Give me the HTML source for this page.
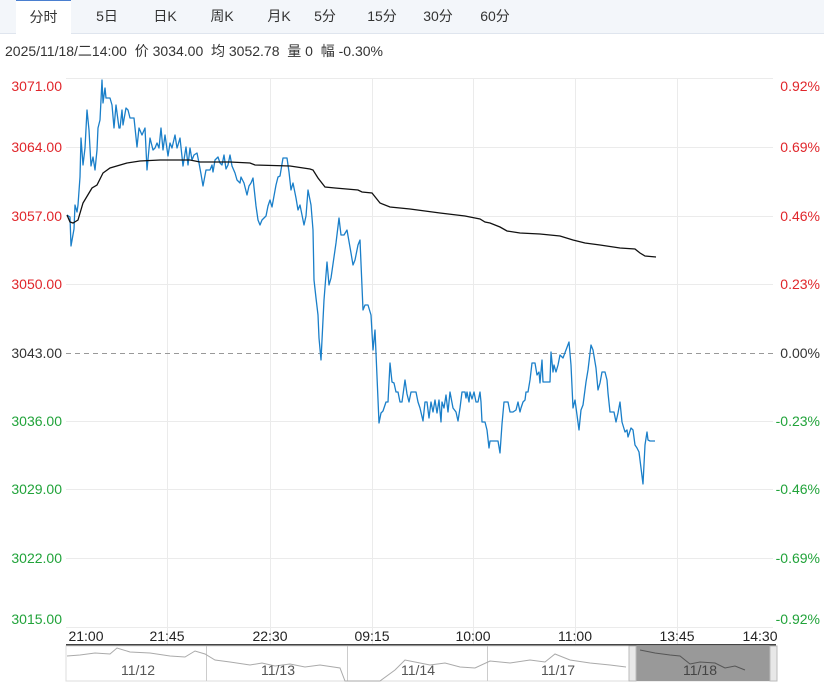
<!DOCTYPE html>
<html><head><meta charset="utf-8"><style>
html,body{margin:0;padding:0;background:#fff;}
body{width:824px;height:684px;overflow:hidden;position:relative;font-family:"Liberation Sans","Noto Sans CJK SC",sans-serif;}
.tabs{position:absolute;left:0;top:0;width:824px;height:33px;background:#f3f6fa;border-bottom:1px solid #dfe5ee;}
.tab{position:absolute;top:0;height:33px;line-height:33px;font-size:14px;color:#333;text-align:center;}
.tab.act{background:#fff;border-top:1px solid #4a7fd0;height:33px;}
.info{position:absolute;left:5px;top:41px;font-size:14px;color:#333;white-space:nowrap;}
</style></head><body>
<div class="tabs">
<div class="tab act" style="left:16px;width:55px">分时</div>
<div class="tab" style="left:88px;width:38px">5日</div>
<div class="tab" style="left:145px;width:40px">日K</div>
<div class="tab" style="left:200px;width:44px">周K</div>
<div class="tab" style="left:258px;width:42px">月K</div>
<div class="tab" style="left:305px;width:40px">5分</div>
<div class="tab" style="left:360px;width:44px">15分</div>
<div class="tab" style="left:416px;width:44px">30分</div>
<div class="tab" style="left:473px;width:44px">60分</div>
</div>
<div class="info">2025/11/18/二14:00&nbsp; 价 3034.00&nbsp; 均 3052.78&nbsp; 量 0&nbsp; 幅 -0.30%</div>
<svg width="824" height="684" style="position:absolute;left:0;top:0" font-family="Liberation Sans, sans-serif">
<g stroke="#ebebeb" stroke-width="1">
<line x1="66" y1="78.5" x2="773" y2="78.5"/><line x1="66" y1="147.5" x2="773" y2="147.5"/>
<line x1="66" y1="216.5" x2="773" y2="216.5"/><line x1="66" y1="284.5" x2="773" y2="284.5"/>
<line x1="66" y1="421.5" x2="773" y2="421.5"/><line x1="66" y1="489.5" x2="773" y2="489.5"/>
<line x1="66" y1="558.5" x2="773" y2="558.5"/><line x1="66" y1="627.5" x2="773" y2="627.5"/>
<line x1="167.5" y1="78" x2="167.5" y2="644"/><line x1="270.5" y1="78" x2="270.5" y2="644"/>
<line x1="372.5" y1="78" x2="372.5" y2="644"/><line x1="473.5" y1="78" x2="473.5" y2="644"/>
<line x1="575.5" y1="78" x2="575.5" y2="644"/><line x1="677.5" y1="78" x2="677.5" y2="644"/>
</g>
<line x1="66" y1="353.5" x2="773" y2="353.5" stroke="#999" stroke-dasharray="5,4"/>
<g font-size="14" text-anchor="end">
<text x="62" y="91" fill="#e0262b">3071.00</text><text x="62" y="152" fill="#e0262b">3064.00</text>
<text x="62" y="221" fill="#e0262b">3057.00</text><text x="62" y="289" fill="#e0262b">3050.00</text>
<text x="62" y="358" fill="#333">3043.00</text><text x="62" y="426" fill="#21a33a">3036.00</text>
<text x="62" y="494" fill="#21a33a">3029.00</text><text x="62" y="563" fill="#21a33a">3022.00</text>
<text x="62" y="624" fill="#21a33a">3015.00</text>
</g>
<g font-size="14" text-anchor="end">
<text x="820" y="91" fill="#e0262b">0.92%</text><text x="820" y="152" fill="#e0262b">0.69%</text>
<text x="820" y="221" fill="#e0262b">0.46%</text><text x="820" y="289" fill="#e0262b">0.23%</text>
<text x="820" y="358" fill="#333">0.00%</text><text x="820" y="426" fill="#21a33a">-0.23%</text>
<text x="820" y="494" fill="#21a33a">-0.46%</text><text x="820" y="563" fill="#21a33a">-0.69%</text>
<text x="820" y="624" fill="#21a33a">-0.92%</text>
</g>
<g font-size="14" fill="#222" text-anchor="middle">
<text x="86" y="641">21:00</text><text x="167" y="641">21:45</text><text x="270" y="641">22:30</text>
<text x="372" y="641">09:15</text><text x="473" y="641">10:00</text><text x="575" y="641">11:00</text>
<text x="677" y="641">13:45</text><text x="760" y="641">14:30</text>
</g>
<polyline fill="none" stroke="#1a7fc9" stroke-width="1.3" stroke-linejoin="round" points="67,215 70,217 71,246 74,229 75,205 77,212 78,205 80,177 81,138 83,165 85,148 87,110 89,130 91,166 93,157 95,170 97,150 98,128 100,120 102,80 103,103 105,88 106,98 108,98 110,98 112,105 114,128 116,105 119,128 120,128 122,110 123,125 126,108 128,110 130,118 132,118 134,118 137,147 139,128 142,135 145,128 147,170 150,138 153,150 155,148 157,143 159,148 161,128 163,150 165,135 168,156 170,143 172,148 175,135 177,148 178,145 180,138 183,166 186,147 188,165 190,148 192,160 194,155 197,153 199,163 201,174 203,186 206,170 210,170 212,165 213,172 215,160 218,157 220,163 222,165 224,155 226,169 228,165 230,155 232,166 235,173 237,180 240,183 241,177 244,183 247,195 249,186 251,183 253,178 256,206 258,220 260,225 262,220 264,218 266,216 268,206 270,200 272,207 274,196 276,185 278,177 280,176 283,158 287,158 289,172 291,190 293,183 296,198 298,210 300,205 302,215 304,225 306,216 308,190 311,205 313,230 314,280 316,298 318,315 319,338 321,360 324,300 327,262 329,285 331,278 333,264 335,250 336,243 339,218 341,235 344,235 347,230 351,253 353,265 355,260 358,245 360,240 363,310 365,305 368,305 371,315 373,350 375,330 379,423 381,413 383,411 386,402 388,402 390,363 392,382 394,383 396,392 398,392 400,402 402,402 405,380 407,394 409,402 411,392 414,392 416,392 418,402 420,408 423,421 425,402 427,402 429,418 431,402 433,412 435,400 437,413 439,400 441,422 442,402 444,408 446,395 448,412 450,392 453,408 456,412 458,421 460,408 462,392 465,392 466,398 467,392 469,402 470,392 472,399 474,392 476,402 478,402 480,392 481,402 482,422 485,422 487,430 489,448 490,441 492,441 494,441 496,441 498,441 500,453 502,424 504,402 505,402 508,402 510,412 511,412 513,412 516,410 518,402 520,412 521,408 523,402 525,400 526,392 528,392 530,380 532,363 533,363 535,363 537,375 539,372 540,383 542,360 543,382 546,382 550,382 551,352 553,372 554,365 556,372 558,365 560,355 563,358 566,350 569,342 571,365 573,408 575,400 577,415 579,430 581,410 583,405 586,382 588,370 591,345 593,350 596,368 598,390 600,383 602,372 605,372 607,380 608,393 610,412 612,412 614,412 616,422 618,413 620,402 622,422 625,432 627,430 628,437 630,431 631,428 633,430 635,445 637,448 639,452 643,484 645,445 647,432 648,440 650,441 655,441"/>
<polyline fill="none" stroke="#111" stroke-width="1.3" points="67,215 70,222 73,223 78,220 83,203 92,188 97,185 103,173 110,168 127,163 140,161 160,160 190,160 200,162 230,162 250,163 255,165 290,166 310,169 313,170 318,178 325,187 335,188 358,190 362,192 372,193 380,203 390,207 410,209 440,213 465,216 475,218 480,219 485,222 490,223 500,227 507,231 520,233 540,234 560,236 573,240 585,243 600,245 620,248 635,249 640,253 645,256 656,257"/>
<!-- navigator -->
<line x1="66" y1="645" x2="776" y2="645" stroke="#444" stroke-width="2"/>
<rect x="66" y="646" width="710" height="35" fill="#fff" stroke="#ddd"/>
<rect x="636" y="646" width="134" height="35" fill="#999"/>
<rect x="629" y="646" width="7" height="35" fill="#e8e8e8" stroke="#bbb"/>
<rect x="770" y="646" width="7" height="35" fill="#e8e8e8" stroke="#bbb"/>
<g stroke="#ccc"><line x1="206.5" y1="646" x2="206.5" y2="681"/><line x1="347.5" y1="646" x2="347.5" y2="681"/><line x1="487.5" y1="646" x2="487.5" y2="681"/></g>
<polyline fill="none" stroke="#aaa" stroke-width="1" points="67,656 80,655 95,653 110,654 117,648 130,652 150,653 170,656 185,657 195,651 205,654 215,660 230,662 250,665 262,663 275,666 290,664 305,667 320,665 340,668 345,681 350,681 360,681 380,681 395,670 405,660 415,662 430,665 445,663 460,667 475,668 490,661 510,663 530,660 545,662 555,654 570,660 590,663 610,665 626,667"/>
<polyline fill="none" stroke="#555" stroke-width="1" points="640,650 655,653 670,655 680,656 690,664 700,662 715,663 725,668 735,666 745,670"/>
<g font-size="14" fill="#555" text-anchor="middle">
<text x="138" y="675">11/12</text><text x="278" y="675">11/13</text><text x="418" y="675">11/14</text>
<text x="558" y="675">11/17</text><text x="700" y="675" fill="#444">11/18</text>
</g>
</svg>
</body></html>
